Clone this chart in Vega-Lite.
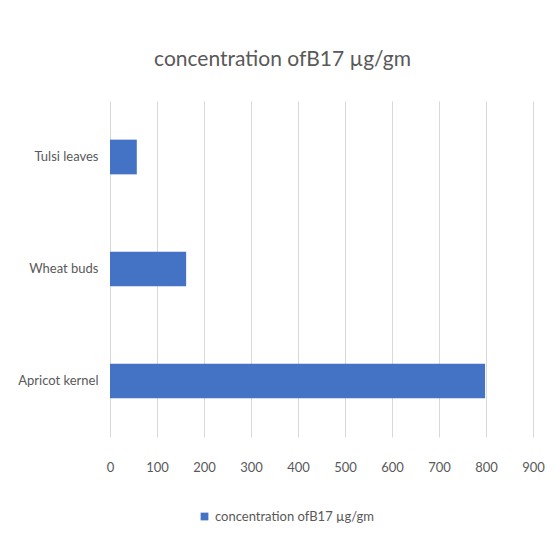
{
  "$schema": "https://vega.github.io/schema/vega-lite/v6.json",
  "width": 423,
  "height": 336,
  "autosize": "none",
  "padding": {"left": 110, "top": 101, "right": 24, "bottom": 108},
  "background": "white",
  "title": {
    "text": "concentration ofB17 µg/gm",
    "font": "Lato",
    "fontSize": 21,
    "fontWeight": "normal",
    "color": "#595959",
    "anchor": "middle",
    "dx": -39,
    "offset": 31
  },
  "data": {
    "values": [
      {"item": "Tulsi leaves", "value": 57, "series": "concentration ofB17 µg/gm"},
      {"item": "Wheat buds", "value": 162, "series": "concentration ofB17 µg/gm"},
      {"item": "Apricot kernel", "value": 798, "series": "concentration ofB17 µg/gm"}
    ]
  },
  "mark": {"type": "bar", "color": "#4472C4"},
  "encoding": {
    "y": {
      "field": "item",
      "type": "nominal",
      "sort": ["Tulsi leaves", "Wheat buds", "Apricot kernel"],
      "scale": {"paddingInner": 0.69, "paddingOuter": 0.345},
      "axis": {
        "title": null,
        "domain": false,
        "ticks": false,
        "labelPadding": 12,
        "labelFont": "Lato",
        "labelFontSize": 13,
        "labelColor": "#595959"
      }
    },
    "x": {
      "field": "value",
      "type": "quantitative",
      "scale": {"domain": [0, 900], "nice": false},
      "axis": {
        "title": null,
        "values": [0, 100, 200, 300, 400, 500, 600, 700, 800, 900],
        "domain": false,
        "ticks": false,
        "grid": true,
        "gridColor": "#d9d9d9",
        "labelFlush": false,
        "labelPadding": 24,
        "labelFont": "Lato",
        "labelFontSize": 13,
        "labelColor": "#595959"
      }
    },
    "color": {
      "field": "series",
      "type": "nominal",
      "scale": {"range": ["#4472C4"]},
      "legend": {
        "title": null,
        "orient": "none",
        "legendX": 88,
        "legendY": 409,
        "symbolType": "square",
        "symbolSize": 60,
        "labelFont": "Lato",
        "labelFontSize": 13,
        "labelColor": "#595959"
      }
    }
  },
  "config": {"view": {"stroke": null}}
}
